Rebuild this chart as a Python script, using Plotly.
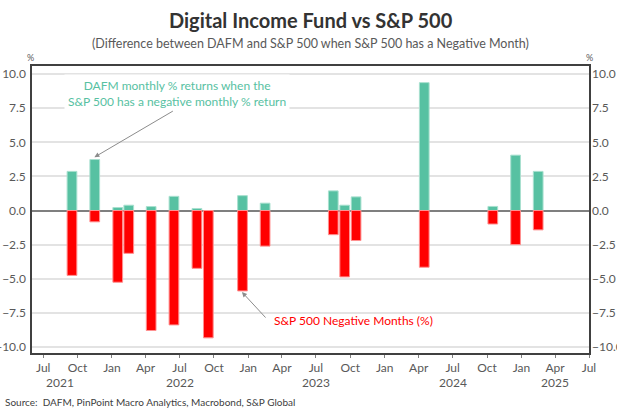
import plotly.graph_objects as go

# Data: months where the S&P 500 had a negative monthly return
months = ["2021-09", "2021-11", "2022-01", "2022-02", "2022-04", "2022-06",
          "2022-08", "2022-09", "2022-12", "2023-02", "2023-08", "2023-09",
          "2023-10", "2024-04", "2024-10", "2024-12", "2025-02"]
dafm = [2.87, 3.74, 0.22, 0.39, 0.29, 1.04, 0.15, 0.0, 1.09, 0.54, 1.44, 0.39,
        1.00, 9.38, 0.30, 4.06, 2.87]
spx = [-4.76, -0.83, -5.26, -3.14, -8.80, -8.39, -4.24, -9.34, -5.90, -2.61,
       -1.77, -4.87, -2.20, -4.16, -0.99, -2.50, -1.42]

tick_dates = ["2021-07-01", "2021-10-01", "2022-01-01", "2022-04-01", "2022-07-01",
              "2022-10-01", "2023-01-01", "2023-04-01", "2023-07-01", "2023-10-01",
              "2024-01-01", "2024-04-01", "2024-07-01", "2024-10-01", "2025-01-01",
              "2025-04-01", "2025-07-01"]
tick_text = ["Jul", "Oct", "Jan", "Apr", "Jul", "Oct", "Jan", "Apr", "Jul", "Oct",
             "Jan", "Apr", "Jul", "Oct", "Jan", "Apr", "Jul"]
year_labels = ["2021", "2022", "2023", "2024", "2025"]
year_pos = ["2021-08-15", "2022-07-01", "2023-07-01", "2024-07-01", "2025-04-01"]
y_ticks = [-10, -7.5, -5, -2.5, 0, 2.5, 5, 7.5, 10]

GREEN = "#57C1A2"
RED = "#FF0000"
GREY = "#595959"
FONT = "Lato"
bar_w = 26 * 86400000

fig = go.Figure()
fig.add_trace(go.Bar(x=months, y=dafm, xperiod="M1", xperiodalignment="middle",
                     width=bar_w, marker=dict(color=GREEN, line=dict(color="#A8E0CF", width=1)),
                     name="DAFM", showlegend=False))
fig.add_trace(go.Bar(x=months, y=spx, xperiod="M1", xperiodalignment="middle",
                     width=bar_w, marker=dict(color=RED, line=dict(color="#FF9090", width=1)),
                     name="S&P 500", showlegend=False))
# invisible trace to activate right axis
fig.add_trace(go.Scatter(x=[months[0]], y=[0], yaxis="y2", mode="markers",
                         marker=dict(opacity=0), showlegend=False, hoverinfo="skip"))

yr = [-10.45, 10.6]
fig.update_layout(
    width=617, height=408,
    margin=dict(l=32, r=28, t=66, b=55, autoexpand=False),
    paper_bgcolor="white", plot_bgcolor="white",
    barmode="overlay",
    font=dict(family=FONT, color=GREY, size=12),
    xaxis=dict(type="date", range=["2021-06-01", "2025-07-01"], automargin=False,
               tickvals=tick_dates, ticktext=tick_text, ticks="outside",
               ticklen=3, tickcolor="#7f7f7f", showgrid=False,
               showline=True, linecolor="#404040", linewidth=1.5, mirror=True,
               tickfont=dict(family=FONT, size=12, color=GREY)),
    yaxis=dict(range=yr, tickvals=y_ticks, tickformat=".1f", showgrid=True,
               automargin=False,
               gridcolor="#E3E3E3", gridwidth=2, zeroline=True,
               zerolinecolor="#7F7F7F", zerolinewidth=2,
               showline=True, linecolor="#404040", linewidth=1.5, mirror=True,
               ticks="", ticklabelstandoff=2,
               tickfont=dict(family=FONT, size=12, color=GREY)),
    yaxis2=dict(range=yr, tickvals=y_ticks, tickformat=".1f", overlaying="y",
                automargin=False, ticklabelstandoff=2,
                side="right", showgrid=False, zeroline=False, showline=False,
                tickfont=dict(family=FONT, size=12, color=GREY)),
)

ann = []
ann.append(dict(text="<b>Digital Income Fund vs S&P 500</b>", xref="paper", yref="paper",
                x=0.5, y=1.160, xanchor="center", yanchor="middle", showarrow=False,
                font=dict(family=FONT, size=20, color="#333333")))
ann.append(dict(text="(Difference between DAFM and S&P 500 when S&P 500 has a Negative Month)",
                xref="paper", yref="paper", x=0.5, y=1.077, xanchor="center",
                yanchor="middle", showarrow=False,
                font=dict(family=FONT, size=12.5, color=GREY)))
ann.append(dict(text="%", xref="paper", yref="paper", x=-0.002, y=1.031,
                xanchor="center", yanchor="middle",
                showarrow=False, font=dict(family=FONT, size=9, color=GREY)))
ann.append(dict(text="%", xref="paper", yref="paper", x=1.0, y=1.031,
                xanchor="center", yanchor="middle",
                showarrow=False, font=dict(family=FONT, size=9, color=GREY)))
for yl, xp in zip(year_labels, year_pos):
    ann.append(dict(text=yl, xref="x", yref="paper", x=xp, y=-0.1045,
                    xanchor="center", yanchor="middle", showarrow=False,
                    font=dict(family=FONT, size=12, color=GREY)))
ann.append(dict(text="Source:  DAFM, PinPoint Macro Analytics, Macrobond, S&P Global",
                xref="paper", yref="paper", x=-0.052, y=-0.171, xanchor="left",
                yanchor="middle", showarrow=False,
                font=dict(family=FONT, size=10, color="#404040")))
# Green label
ann.append(dict(text="DAFM monthly % returns when the<br>S&P 500 has a negative monthly % return",
                xref="paper", yref="paper", x=0.2603, y=0.904, xanchor="center",
                yanchor="middle", showarrow=False, bgcolor="white", borderpad=3,
                font=dict(family=FONT, size=12, color=GREEN)))
ann.append(dict(text="", x="2021-11-15", y=3.91, xref="x", yref="y",
                ax=80, ay=-47, showarrow=True, arrowhead=2, arrowsize=1,
                arrowwidth=1, arrowcolor="#8C8C8C"))
# Red label
ann.append(dict(text="S&P 500 Negative Months (%)", xref="paper", yref="paper",
                x=0.431, y=0.1115, xanchor="left", yanchor="middle", showarrow=False,
                font=dict(family=FONT, size=12, color=RED)))
ann.append(dict(text="", x="2022-12-15", y=-5.98, xref="x", yref="y",
                ax=25, ay=27, showarrow=True, arrowhead=2, arrowsize=1,
                arrowwidth=1, arrowcolor="#8C8C8C"))
fig.update_layout(annotations=ann)

fig.write_html("out.html", config={"displayModeBar": False},
               post_script="document.body.style.margin='0';document.body.style.overflow='hidden';")
